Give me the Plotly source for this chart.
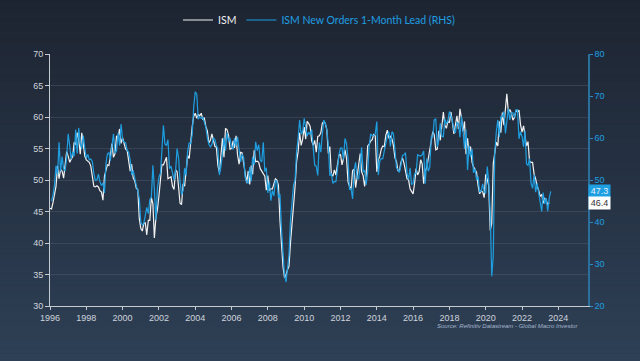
import plotly.graph_objects as go
import pandas as pd

# ISM Manufacturing PMI, monthly Jan 1996 - Jul 2023
ism_values = [
    45.5, 45.4, 46.4, 48.0, 49.0, 52.2, 50.2, 51.7, 51.4, 50.3, 52.8, 54.5,
    53.8, 52.8, 53.3, 53.7, 56.0, 55.6, 57.5, 56.4, 54.1, 57.5, 55.7, 53.8,
    53.2, 52.9, 52.8, 52.2, 50.9, 49.0, 48.9, 49.1, 48.9, 48.3, 48.1, 46.8,
    50.6, 51.7, 52.4, 52.3, 54.3, 55.8, 53.6, 54.2, 57.0, 56.7, 58.1, 55.8,
    56.7, 55.8, 54.9, 54.7, 53.2, 51.4, 52.5, 50.3, 49.9, 48.7, 48.5, 43.9,
    42.3, 41.9, 43.1, 43.2, 41.3, 43.6, 43.6, 47.2, 46.2, 40.8, 44.1, 45.3,
    47.5, 50.7, 52.4, 52.4, 53.1, 53.6, 50.2, 50.3, 50.5, 49.0, 48.5, 51.6,
    51.3, 48.8, 46.3, 46.1, 49.4, 49.0, 51.0, 53.9, 53.4, 56.2, 58.5, 60.1,
    60.6, 59.8, 60.4, 60.2, 60.6, 59.6, 59.9, 58.5, 57.8, 55.9, 56.3, 57.3,
    56.4, 55.3, 55.2, 52.3, 51.2, 53.8, 56.6, 53.6, 58.2, 58.0, 57.1, 54.9,
    55.0, 56.2, 55.1, 57.0, 54.0, 52.5, 54.4, 54.3, 52.5, 51.2, 49.5, 51.4,
    49.3, 52.3, 50.9, 54.7, 52.9, 53.0, 52.8, 51.8, 51.4, 50.8, 50.6, 48.4,
    50.7, 48.3, 48.6, 48.6, 49.6, 50.2, 50.0, 49.2, 43.5, 38.9, 36.2, 34.5,
    35.0, 35.8, 36.3, 40.1, 42.8, 45.8, 48.9, 52.9, 54.5, 57.5, 55.5, 56.5,
    58.4, 56.5, 59.3, 59.0, 58.5, 56.2, 55.5, 56.3, 54.4, 56.9, 57.0, 57.5,
    59.0, 59.3, 59.0, 58.0, 54.2, 55.3, 50.9, 50.6, 51.6, 50.8, 52.7, 53.9,
    54.1, 52.4, 53.4, 54.8, 53.5, 49.7, 49.0, 48.5, 51.5, 51.7, 48.8, 50.7,
    53.1, 54.2, 51.3, 50.7, 49.0, 50.9, 55.4, 55.7, 56.2, 56.4, 57.3, 57.0,
    51.3, 53.2, 53.7, 54.9, 55.4, 55.3, 57.1, 57.9, 56.6, 57.0, 56.5, 55.5,
    53.5, 52.9, 51.5, 51.5, 52.8, 53.5, 52.7, 51.1, 50.2, 50.1, 48.6, 48.2,
    47.8, 49.5, 51.8, 50.8, 51.3, 53.2, 52.6, 49.4, 51.5, 51.9, 53.2, 54.7,
    56.0, 57.7, 57.2, 54.8, 54.9, 57.8, 56.3, 58.8, 60.8, 58.7, 58.2, 59.3,
    59.1, 60.8, 59.3, 57.3, 58.7, 60.2, 58.1, 61.3, 59.8, 57.7, 59.3, 54.1,
    56.6, 54.2, 55.3, 52.8, 52.1, 51.7, 51.2, 49.1, 47.8, 48.3, 48.1, 47.2,
    50.9, 50.1, 49.1, 42.0, 43.1, 52.6, 54.2, 56.0, 55.4, 59.3, 57.5, 60.7,
    58.7, 60.8, 63.7, 60.7, 61.2, 60.6, 59.5, 59.9, 61.1, 60.8, 61.1, 58.8,
    57.6, 58.6, 57.1, 55.4, 56.1, 53.0, 52.8, 52.8, 50.9, 50.2, 49.0, 48.4,
    47.4, 47.7, 46.3, 47.1, 46.9, 46.0, 46.4,
]

# ISM New Orders, monthly Jan 1996 - Jul 2023, plotted with a 1-month lead (RHS)
new_orders_values = [
    45.0, 46.4, 48.9, 53.4, 51.2, 59.0, 52.1, 55.6, 52.6, 52.2, 55.3, 61.0,
    58.1, 55.0, 56.7, 55.7, 62.0, 56.3, 62.4, 58.7, 57.4, 60.6, 57.6, 55.2,
    56.1, 54.8, 55.0, 54.4, 51.6, 49.9, 50.0, 51.4, 49.6, 48.7, 49.3, 46.9,
    54.1, 56.2, 56.5, 54.6, 58.1, 61.0, 56.4, 56.9, 61.2, 58.2, 63.3, 59.5,
    59.0, 58.9, 57.1, 56.6, 54.8, 51.2, 52.3, 50.0, 48.8, 47.3, 45.7, 39.9,
    39.3, 39.6, 41.9, 43.5, 42.0, 45.3, 45.9, 53.5, 47.7, 40.5, 48.0, 50.7,
    51.6, 56.6, 63.0, 58.6, 58.2, 59.6, 52.7, 53.3, 51.8, 50.0, 52.1, 57.5,
    55.2, 49.6, 46.5, 47.5, 52.8, 51.1, 56.8, 58.8, 58.6, 60.8, 67.4, 71.0,
    70.4, 64.5, 65.0, 64.7, 64.9, 63.8, 62.6, 60.0, 58.5, 57.9, 58.4, 60.0,
    59.6, 58.2, 57.4, 51.2, 53.1, 56.2, 60.1, 57.0, 61.3, 59.2, 60.0, 57.8,
    57.3, 60.0, 58.1, 60.3, 56.6, 54.3, 56.1, 55.4, 50.6, 49.5, 49.3, 53.1,
    49.7, 55.5, 53.6, 59.1, 57.0, 58.4, 54.7, 54.3, 59.0, 52.0, 52.9, 46.9,
    49.6, 45.1, 47.5, 46.2, 49.9, 49.7, 45.8, 46.6, 38.3, 31.6, 27.4, 25.7,
    29.2, 32.2, 40.5, 45.1, 48.9, 49.9, 56.8, 60.0, 64.3, 60.9, 61.6, 64.7,
    62.0, 60.4, 61.4, 60.8, 62.0, 57.7, 53.5, 53.3, 51.1, 58.9, 56.6, 60.9,
    64.3, 63.5, 62.0, 58.5, 51.0, 51.6, 49.2, 49.6, 49.6, 52.4, 56.0, 57.6,
    57.6, 54.9, 59.9, 58.7, 55.0, 47.8, 48.0, 45.5, 52.3, 54.2, 50.3, 50.3,
    53.3, 57.8, 51.9, 52.3, 48.8, 51.9, 58.3, 61.0, 60.5, 60.6, 61.0, 63.9,
    51.2, 54.5, 55.1, 55.1, 56.9, 58.9, 60.5, 61.5, 58.0, 61.5, 61.0, 57.3,
    52.9, 52.5, 51.8, 53.5, 55.8, 56.0, 56.5, 51.7, 50.1, 52.9, 48.9, 49.2,
    51.5, 51.5, 56.0, 55.8, 55.7, 56.0, 56.9, 49.1, 55.1, 52.1, 53.0, 60.2,
    60.4, 64.3, 64.5, 57.9, 59.5, 63.5, 60.4, 60.3, 64.6, 63.4, 64.0, 66.3,
    65.4, 64.2, 61.9, 61.2, 63.7, 63.5, 60.2, 65.1, 61.8, 57.4, 62.1, 52.4,
    58.2, 55.5, 57.4, 51.7, 52.7, 50.0, 50.8, 47.2, 47.3, 49.1, 47.2, 46.8,
    53.2, 49.8, 42.2, 27.1, 31.8, 56.4, 61.5, 64.3, 60.2, 65.1, 65.1, 66.3,
    61.1, 64.8, 67.0, 64.3, 66.0, 66.0, 64.9, 66.7, 66.7, 59.8, 61.5, 60.4,
    57.9, 61.7, 53.8, 53.5, 55.1, 49.2, 48.0, 51.3, 47.1, 49.2, 47.2, 45.1,
    42.5, 47.0, 44.3, 45.7, 42.6, 45.6, 47.3,
]

ism_start = "1996-01-01"
new_orders_start = "1996-02-01"  # one-month lead

left_ticks = [30, 35, 40, 45, 50, 55, 60, 65, 70]
right_ticks = [20, 30, 40, 50, 60, 70, 80]

ism_dates = pd.date_range(ism_start, periods=len(ism_values), freq="MS")
no_dates = pd.date_range(new_orders_start, periods=len(new_orders_values), freq="MS")

WHITE = "#f2f2f2"
BLUE = "#1e9fe2"

fig = go.Figure()
fig.add_trace(go.Scatter(
    x=ism_dates, y=ism_values, mode="lines",
    name="ISM",
    line=dict(color=WHITE, width=1.2),
    yaxis="y",
))
fig.add_trace(go.Scatter(
    x=no_dates, y=new_orders_values, mode="lines",
    name='<span style="color:%s">ISM New Orders 1-Month Lead (RHS)</span>' % BLUE,
    line=dict(color=BLUE, width=1.2),
    yaxis="y2",
))

# gradient background (style only)
shapes = []
n_bands = 60
top = (29, 36, 49)
bot = (46, 64, 86)
L, R, T, B = 50, 52, 54, 55
pw, ph = 640 - L - R, 361 - T - B
y_lo = -B / ph - 0.02
y_hi = 1 + T / ph + 0.02
for i in range(n_bands):
    f = i / (n_bands - 1)
    c = tuple(int(round(bot[k] + (top[k] - bot[k]) * f)) for k in range(3))
    y0 = y_lo + (y_hi - y_lo) * i / n_bands
    y1 = y_lo + (y_hi - y_lo) * (i + 1) / n_bands + 0.002
    shapes.append(dict(
        type="rect", xref="paper", yref="paper",
        x0=-L / pw - 0.02, x1=1 + R / pw + 0.02, y0=y0, y1=y1,
        fillcolor="rgb(%d,%d,%d)" % c, line=dict(width=0), layer="below",
    ))

annotations = [
    dict(
        text="<i>Source: Refinitiv Datastream - Global Macro Investor</i>",
        xref="paper", yref="paper", x=0.985, y=-0.08,
        xanchor="right", yanchor="middle", showarrow=False,
        font=dict(family="Liberation Sans, Arial", size=6, color="#a6b6cc"),
    ),
    dict(
        text="%.1f" % new_orders_values[-1], xref="paper", yref="y2",
        x=1.0, y=new_orders_values[-1], xanchor="left", yanchor="middle",
        showarrow=False, bgcolor=BLUE, borderpad=1,
        font=dict(family="Liberation Sans, Arial", size=9, color="#e8f2fa"),
        width=19,
    ),
    dict(
        text="%.1f" % ism_values[-1], xref="paper", yref="y",
        x=1.0, y=ism_values[-1], xanchor="left", yanchor="middle",
        showarrow=False, bgcolor="#ffffff", borderpad=1,
        font=dict(family="Liberation Sans, Arial", size=9, color="#333333"),
        width=19,
    ),
]

tick_font = dict(family="Liberation Sans, Arial", size=9, color="#cfd4db")

fig.update_layout(
    width=640, height=361,
    margin=dict(l=L, r=R, t=T, b=B, autoexpand=False),
    paper_bgcolor="rgb(37,50,67)",
    plot_bgcolor="rgba(0,0,0,0)",
    shapes=shapes,
    annotations=annotations,
    showlegend=True,
    legend=dict(
        orientation="h", x=0.5, y=1 - 20 / 361, xanchor="center", yanchor="middle",
        yref="container",
        font=dict(family="Lato, Liberation Sans", size=10.5, color=WHITE),
        bgcolor="rgba(0,0,0,0)", itemwidth=30,
    ),
    xaxis=dict(
        type="date",
        range=["1996-01-01", "2025-08-20"],
        tick0="1996-01-01", dtick="M24", tickformat="%Y",
        showgrid=False, zeroline=False,
        showline=True, linecolor="#c5cad1", linewidth=1,
        ticks="outside", ticklen=3, tickcolor="#c5cad1",
        tickfont=tick_font,
    ),
    yaxis=dict(
        range=[30, 70], tickvals=left_ticks,
        showgrid=True, gridcolor="rgba(120,135,155,0.24)", gridwidth=1,
        zeroline=False,
        showline=True, linecolor="#c5cad1", linewidth=1,
        ticks="outside", ticklen=4, tickcolor="#c5cad1",
        tickfont=tick_font,
    ),
    yaxis2=dict(
        range=[20, 80], tickvals=right_ticks,
        overlaying="y", side="right",
        showgrid=False, zeroline=False,
        showline=True, linecolor="#2b6f9c", linewidth=1.5,
        ticks="outside", ticklen=3, tickcolor="#2b8ccc",
        tickfont=dict(family="Liberation Sans, Arial", size=9, color=BLUE),
    ),
)

fig.write_html(
    "out.html",
    config={"displayModeBar": False},
    post_script="document.body.style.margin='0';document.body.style.overflow='hidden';"
                "document.body.style.background='rgb(29,36,49)';",
)
